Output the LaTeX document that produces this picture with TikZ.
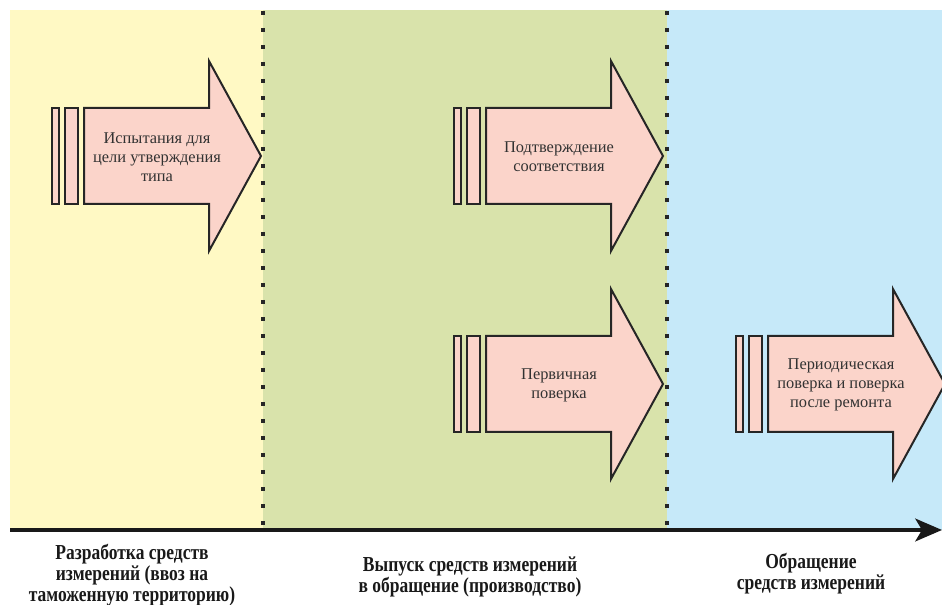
\documentclass[tikz,border=0pt]{standalone}
\usepackage{fontspec}
\setmainfont{Liberation Serif}
\newfontfamily\lblfont[FakeStretch=0.82]{Liberation Serif}
\usetikzlibrary{arrows.meta}
\definecolor{bandY}{RGB}{255,249,196}
\definecolor{bandG}{RGB}{217,227,171}
\definecolor{bandB}{RGB}{198,233,249}
\definecolor{arrfill}{RGB}{251,212,202}
\definecolor{txt}{RGB}{50,50,50}
\tikzset{
  band/.style={draw=none},
  arrshape/.style={fill=arrfill, draw=black!85, line width=1.5pt, line join=miter},
  arrtext/.style={text=txt, align=center, font=\fontsize{12.3pt}{14.3pt}\selectfont, inner sep=0pt},
  divider/.style={line width=3pt, dash pattern=on 3pt off 9.75pt, draw=black!85},
  lbl/.style={text=black!90, align=center, font=\lblfont\bfseries\fontsize{16pt}{15.8pt}\selectfont, inner sep=0pt},
  axisline/.style={line width=3pt, draw=black!90, -{Stealth[length=20pt,width=17pt,inset=5pt]}}
}
% #1 name, #2 shaft left x, #3 centre y, #4 text
\newcommand\flowarrow[4]{%
  \path[arrshape] (#2-32,#3-48) rectangle (#2-25,#3+48);
  \path[arrshape] (#2-19,#3-48) rectangle (#2-6,#3+48);
  \path[arrshape] (#2,#3-48) -- (#2+125,#3-48) -- (#2+125,#3-95) -- (#2+177,#3)
     -- (#2+125,#3+95) -- (#2+125,#3+48) -- (#2,#3+48) -- cycle;
  \node[arrtext] (#1) at (#2+73,#3+1) {#4};
}
\begin{document}
\begin{tikzpicture}[x=0.75pt,y=-0.75pt]
\useasboundingbox (0,0) rectangle (942,605);
\fill[white] (0,0) rectangle (942,605);
% bands
\fill[bandY] (10,10) rectangle (263,530);
\fill[bandG] (263,10) rectangle (667,530);
\fill[bandB] (667,10) rectangle (942,530);
% dividers
\coordinate (d1t) at (263,11);
\coordinate (d1b) at (263,528);
\coordinate (d2t) at (667,11);
\coordinate (d2b) at (667,528);
\draw[divider] (d1t) -- (d1b);
\draw[divider] (d2t) -- (d2b);
% arrows
\flowarrow{a1}{84}{156}{Испытания для\\цели утверждения\\типа}
\flowarrow{a2}{486}{156}{Подтверждение\\соответствия}
\flowarrow{a3}{486}{384}{Первичная\\поверка}
\flowarrow{a4}{768}{384}{Периодическая\\поверка и поверка\\после ремонта}
% axis
\coordinate (axL) at (10,530);
\coordinate (axR) at (942,530);
\draw[axisline] (axL) -- (axR);
% labels
\node[lbl] (l1) at (132,575) {Разработка средств\\измерений (ввоз на\\таможенную территорию)};
\node[lbl] (l2) at (470,577) {Выпуск средств измерений\\в обращение (производство)};
\node[lbl] (l3) at (811,574) {Обращение\\средств измерений};
\end{tikzpicture}
\end{document}
